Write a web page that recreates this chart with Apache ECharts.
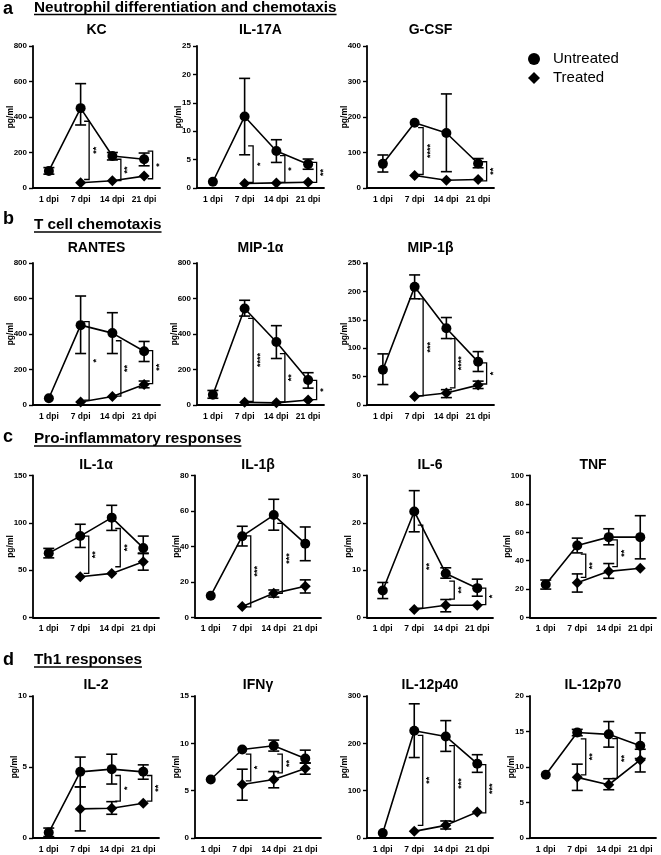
<!DOCTYPE html>
<html><head><meta charset="utf-8">
<script src="https://cdn.jsdelivr.net/npm/echarts@6/dist/echarts.min.js"></script>
<style>html,body{margin:0;padding:0;background:#fff}#c{width:661px;height:855px}</style>
</head><body><div id="c"></div>
<script>
const CATS = ['1 dpi', '7 dpi', '14 dpi', '21 dpi'];

// ---- a: Neutrophil differentiation and chemotaxis
const kcU = [96, 450, 180, 162];
const kcUErr = [[78, 115], [355, 588], [158, 200], [125, 197]];
const kcT = [null, 30, 41, 67];
const kcTErr = [null, null, null, null];
const kcSig = [[1, 376, 48, '**'], [2, 162, 42, '**'], [3, 208, 52, '*']];

const il17aU = [1.1, 12.6, 6.5, 4.2];
const il17aUErr = [null, [5.85, 19.3], [4.5, 8.5], [3.3, 5.1]];
const il17aT = [null, 0.8, 0.9, 1.0];
const il17aTErr = [null, null, null, null];
const il17aSig = [[1, 7.4, 1.0, '*'], [2, 5.7, 1.0, '*'], [3, 4.5, 1.0, '**']];

const gcsfU = [68, 184, 155, 69];
const gcsfUErr = [[45, 93], null, [46, 265], [57, 83]];
const gcsfT = [null, 35, 22, 24];
const gcsfTErr = [null, null, null, null];
const gcsfSig = [[1, 170, 38, '****'], [3, 74, 20, '**']];

// ---- b: T cell chemotaxis
const rantesU = [38, 450, 405, 303];
const rantesUErr = [null, [290, 614], [290, 520], [245, 358]];
const rantesT = [null, 17, 48, 115];
const rantesTErr = [null, null, null, [97, 135]];
const rantesSig = [[1, 470, 28, '*'], [2, 362, 50, '**'], [3, 306, 120, '**']];

const mip1aU = [58, 544, 355, 141];
const mip1aUErr = [[38, 82], [501, 590], [262, 447], [95, 182]];
const mip1aT = [null, 15, 12, 28];
const mip1aTErr = [null, null, null, null];
const mip1aSig = [[1, 488, 20, '****'], [2, 290, 18, '**'], [3, 139, 30, '*']];

const mip1bU = [62, 208, 135, 76];
const mip1bUErr = [[36, 90], [187, 229], [117, 154], [59, 94]];
const mip1bT = [null, 15, 21, 35];
const mip1bTErr = [null, null, [13, 27], [29, 42]];
const mip1bSig = [[1, 187, 16, '***'], [2, 117, 30, '****'], [3, 74, 37, '*']];

// ---- c: Pro-inflammatory responses
const il1aU = [68, 86, 105.5, 73.5];
const il1aUErr = [[63, 73], [74, 98.5], [92, 118.5], [67.5, 86]];
const il1aT = [null, 43, 46.6, 59];
const il1aTErr = [null, null, null, [50, 68]];
const il1aSig = [[1, 86, 46.6, '**'], [2, 94, 53.6, '**']];

const il1bU = [12.3, 45.8, 57.7, 41.6];
const il1bUErr = [null, [40.3, 51.4], [49.2, 66.6], [32, 51]];
const il1bT = [null, 6.2, 13.6, 17.6];
const il1bTErr = [null, null, [11.5, 15.5], [13.8, 21.2]];
const il1bSig = [[1, 46, 6, '***'], [2, 53, 13.6, '***']];

const il6U = [5.7, 22.4, 9.3, 6.2];
const il6UErr = [[4.0, 7.4], [18.1, 26.8], [8.3, 10.5], [4.5, 8.1]];
const il6T = [null, 1.7, 2.6, 2.6];
const il6TErr = [null, null, [1.2, 3.8], null];
const il6Sig = [[1, 19.5, 2, '**'], [2, 7.7, 3.9, '**'], [3, 6.2, 2.7, '*']];

const tnfU = [23.3, 50.7, 56.6, 56.6];
const tnfUErr = [[20, 26.4], [45.5, 55.9], [51.2, 62.5], [41.3, 71.7]];
const tnfT = [null, 24.5, 32.5, 34.7];
const tnfTErr = [null, [17.9, 30.7], [27.6, 38], null];
const tnfSig = [[1, 44.6, 28.3, '**'], [2, 54.7, 35.8, '**']];

// ---- d: Th1 responses
const il2U = [0.38, 4.66, 4.85, 4.66];
const il2UErr = [[0.1, 0.7], [3.6, 5.7], [3.8, 5.9], [4.14, 5.15]];
const il2T = [null, 2.05, 2.1, 2.45];
const il2TErr = [null, [0.5, 3.6], [1.67, 2.56], null];
const il2Sig = [[2, 4.4, 2.6, '*'], [3, 4.4, 2.6, '**']];

const ifngU = [6.18, 9.35, 9.74, 8.4];
const ifngUErr = [null, null, [9.18, 10.34], [7.9, 9.28]];
const ifngT = [null, 5.65, 6.18, 7.34];
const ifngTErr = [null, [3.99, 7.27], [5.3, 7.02], [6.74, 7.94]];
const ifngSig = [[1, 8.86, 6.04, '*'], [2, 8.86, 6.88, '**']];

const il12p40U = [10.5, 226.5, 214.6, 157];
const il12p40UErr = [null, [170, 283.5], [183, 248], [138.7, 176]];
const il12p40T = [null, 14, 26.7, 55];
const il12p40TErr = [null, null, [19, 36], null];
const il12p40Sig = [[1, 217, 26.7, '**'], [2, 195, 35, '***'], [3, 155, 53, '***']];

const il12p70U = [8.9, 14.86, 14.6, 13.0];
const il12p70UErr = [null, [14.4, 15.3], [12.8, 16.4], [11.2, 14.8]];
const il12p70T = [null, 8.54, 7.5, 11.0];
const il12p70TErr = [null, [6.7, 10.4], [6.8, 8.35], [9.3, 12.5]];
const il12p70Sig = [[1, 13.96, 8.9, '**'], [2, 14, 8.4, '**']];

const sectionLetters = ['a', 'b', 'c', 'd'];
const sectionTitles = ['Neutrophil differentiation and chemotaxis', 'T cell chemotaxis',
  'Pro-inflammatory responses', 'Th1 responses'];

const panels = [
  {name: 'KC', u: kcU, ue: kcUErr, t: kcT, te: kcTErr, sig: kcSig, max: 800, step: 200, row: 0, col: 0},
  {name: 'IL-17A', u: il17aU, ue: il17aUErr, t: il17aT, te: il17aTErr, sig: il17aSig, max: 25, step: 5, row: 0, col: 1},
  {name: 'G-CSF', u: gcsfU, ue: gcsfUErr, t: gcsfT, te: gcsfTErr, sig: gcsfSig, max: 400, step: 100, row: 0, col: 2},
  {name: 'RANTES', u: rantesU, ue: rantesUErr, t: rantesT, te: rantesTErr, sig: rantesSig, max: 800, step: 200, row: 1, col: 0},
  {name: 'MIP-1α', u: mip1aU, ue: mip1aUErr, t: mip1aT, te: mip1aTErr, sig: mip1aSig, max: 800, step: 200, row: 1, col: 1},
  {name: 'MIP-1β', u: mip1bU, ue: mip1bUErr, t: mip1bT, te: mip1bTErr, sig: mip1bSig, max: 250, step: 50, row: 1, col: 2},
  {name: 'IL-1α', u: il1aU, ue: il1aUErr, t: il1aT, te: il1aTErr, sig: il1aSig, max: 150, step: 50, row: 2, col: 0},
  {name: 'IL-1β', u: il1bU, ue: il1bUErr, t: il1bT, te: il1bTErr, sig: il1bSig, max: 80, step: 20, row: 2, col: 1},
  {name: 'IL-6', u: il6U, ue: il6UErr, t: il6T, te: il6TErr, sig: il6Sig, max: 30, step: 10, row: 2, col: 2},
  {name: 'TNF', u: tnfU, ue: tnfUErr, t: tnfT, te: tnfTErr, sig: tnfSig, max: 100, step: 20, row: 2, col: 3},
  {name: 'IL-2', u: il2U, ue: il2UErr, t: il2T, te: il2TErr, sig: il2Sig, max: 10, step: 5, row: 3, col: 0},
  {name: 'IFNγ', u: ifngU, ue: ifngUErr, t: ifngT, te: ifngTErr, sig: ifngSig, max: 15, step: 5, row: 3, col: 1},
  {name: 'IL-12p40', u: il12p40U, ue: il12p40UErr, t: il12p40T, te: il12p40TErr, sig: il12p40Sig, max: 300, step: 100, row: 3, col: 2},
  {name: 'IL-12p70', u: il12p70U, ue: il12p70UErr, t: il12p70T, te: il12p70TErr, sig: il12p70Sig, max: 20, step: 5, row: 3, col: 3}
];

// ---- layout (styles / positions)
const FONT = "'Liberation Sans', Arial, Helvetica, sans-serif";
const ROW_TOP = [46, 263, 475.5, 696];
const ROW_TITLE_Y = [30, 248, 465, 685];
const GRID_H = 142;
const COLS_3 = [33, 197, 367];
const COLS_4 = [33, 195, 367, 530];
const SEC_Y = [7.3, 224.5, 439, 659.8];
const SEC_UL = [14.5, 232, 446, 667];
const LET_Y = [8.6, 218.6, 436.6, 659.6];

const chart = echarts.init(document.getElementById('c'), null, {renderer: 'canvas'});

const grids = [], xAxes = [], yAxes = [], series = [], graphics = [];

const ctx = document.createElement('canvas').getContext('2d');
ctx.font = 'bold 15.3px ' + FONT;

sectionTitles.forEach((t, i) => {
  graphics.push({type: 'text', x: 3, y: LET_Y[i], style: {text: sectionLetters[i], fontSize: 18, fontWeight: 'bold', fontFamily: FONT, fill: '#000', align: 'left', verticalAlign: 'middle'}});
  graphics.push({type: 'text', x: 34, y: SEC_Y[i], style: {text: t, fontSize: 15.3, fontWeight: 'bold', fontFamily: FONT, fill: '#000', align: 'left', verticalAlign: 'middle'}});
  const w = ctx.measureText(t).width;
  graphics.push({type: 'line', shape: {x1: 34, y1: SEC_UL[i], x2: 34 + w, y2: SEC_UL[i]}, style: {stroke: '#000', lineWidth: 1.3}});
});

function errRender(errs) {
  return function (params, api) {
    const e = errs[params.dataIndex]; // [index, low, high]
    const lo = api.coord([e[0], e[1]]);
    const hi = api.coord([e[0], e[2]]);
    const hw = 5.5;
    const st = {stroke: '#000', lineWidth: 1.6};
    return {type: 'group', children: [
      {type: 'line', shape: {x1: hi[0], y1: hi[1], x2: lo[0], y2: lo[1]}, style: st},
      {type: 'line', shape: {x1: hi[0] - hw, y1: hi[1], x2: hi[0] + hw, y2: hi[1]}, style: st},
      {type: 'line', shape: {x1: lo[0] - hw, y1: lo[1], x2: lo[0] + hw, y2: lo[1]}, style: st}
    ]};
  };
}

function sigRender(sig) {
  return function (params, api) {
    const s = sig[params.dataIndex];
    const a = api.coord([s[0], s[1]]);
    const b = api.coord([s[0], s[2]]);
    const bx = a[0] + 8.5;
    return {type: 'group', children: [
      {type: 'polyline', shape: {points: [[bx - 5, a[1]], [bx, a[1]], [bx, b[1]], [bx - 5, b[1]]]},
        style: {stroke: '#000', lineWidth: 1.3, fill: null}},
      {type: 'text', x: bx + 7, y: (a[1] + b[1]) / 2, rotation: Math.PI / 2,
        style: {text: s[3], fontSize: 9, fontWeight: 'bold', fontFamily: FONT, fill: '#000', align: 'center', verticalAlign: 'middle'}}
    ]};
  };
}

panels.forEach((p, i) => {
  const four = p.row >= 2;
  const left = (four ? COLS_4 : COLS_3)[p.col];
  const width = four ? 126 : 127;
  const top = ROW_TOP[p.row];
  grids.push({left: left, top: top, width: width, height: GRID_H, containLabel: false});
  graphics.push({type: 'text', x: left + width / 2, y: ROW_TITLE_Y[p.row],
    style: {text: p.name, fontSize: 14, fontWeight: 'bold', fontFamily: FONT, fill: '#000', align: 'center', verticalAlign: 'middle'}});
  xAxes.push({
    gridIndex: i, type: 'category', data: CATS, boundaryGap: true,
    axisLine: {lineStyle: {color: '#000', width: 1.8}},
    axisTick: {alignWithLabel: true, length: 4, lineStyle: {color: '#000', width: 1.4}},
    axisLabel: {interval: 0, color: '#000', fontSize: 8.5, fontWeight: 'bold', fontFamily: FONT, margin: 7},
    splitLine: {show: false}
  });
  const digits = String(p.max).length;
  yAxes.push({
    gridIndex: i, type: 'value', min: 0, max: p.max, interval: p.step,
    name: 'pg/ml', nameLocation: 'middle', nameGap: digits >= 3 ? 18 : 14, nameMoveOverlap: false,
    nameTextStyle: {color: '#000', fontSize: 8.5, fontWeight: 'bold', fontFamily: FONT},
    axisLine: {show: true, lineStyle: {color: '#000', width: 1.8}},
    axisTick: {show: true, length: 4, lineStyle: {color: '#000', width: 1.4}},
    axisLabel: {color: '#000', fontSize: 8, fontWeight: 'bold', fontFamily: FONT, margin: 6},
    splitLine: {show: false}
  });
  const ueList = p.ue.map((e, k) => e ? [k, e[0], e[1]] : null).filter(Boolean);
  const teList = p.te.map((e, k) => e ? [k, e[0], e[1]] : null).filter(Boolean);
  const allErr = ueList.concat(teList);
  series.push({
    type: 'custom', xAxisIndex: i, yAxisIndex: i, z: 1, silent: true,
    data: allErr.map(e => [e[0], e[1], e[2]]),
    encode: {x: 0, y: [1, 2]},
    renderItem: errRender(allErr)
  });
  series.push({
    type: 'custom', xAxisIndex: i, yAxisIndex: i, z: 1, silent: true,
    data: p.sig.map(s => [s[0], s[1], s[2]]),
    encode: {x: 0, y: [1, 2]},
    renderItem: sigRender(p.sig)
  });
  series.push({
    name: 'Untreated', type: 'line', xAxisIndex: i, yAxisIndex: i, z: 3,
    data: p.u.map(v => v == null ? '-' : v),
    symbol: 'circle', symbolSize: 10, showAllSymbol: true,
    itemStyle: {color: '#000'}, lineStyle: {color: '#000', width: 1.6}, animation: false
  });
  series.push({
    name: 'Treated', type: 'line', xAxisIndex: i, yAxisIndex: i, z: 3,
    data: p.t.map(v => v == null ? '-' : v),
    symbol: 'diamond', symbolSize: 11, showAllSymbol: true,
    itemStyle: {color: '#000'}, lineStyle: {color: '#000', width: 1.6}, animation: false
  });
});

chart.setOption({
  animation: false,
  backgroundColor: '#fff',
  textStyle: {fontFamily: FONT},
  legend: {
    orient: 'vertical', left: 523, top: 46.5, itemGap: 4,
    itemWidth: 12, itemHeight: 12,
    data: [{name: 'Untreated', icon: 'circle'}, {name: 'Treated', icon: 'diamond'}],
    textStyle: {color: '#000', fontSize: 15, fontFamily: FONT, padding: [0, 0, 0, 8]},
    itemStyle: {color: '#000'}, selectedMode: false
  },
  grid: grids, xAxis: xAxes, yAxis: yAxes, series: series, graphic: graphics
});
</script></body></html>
